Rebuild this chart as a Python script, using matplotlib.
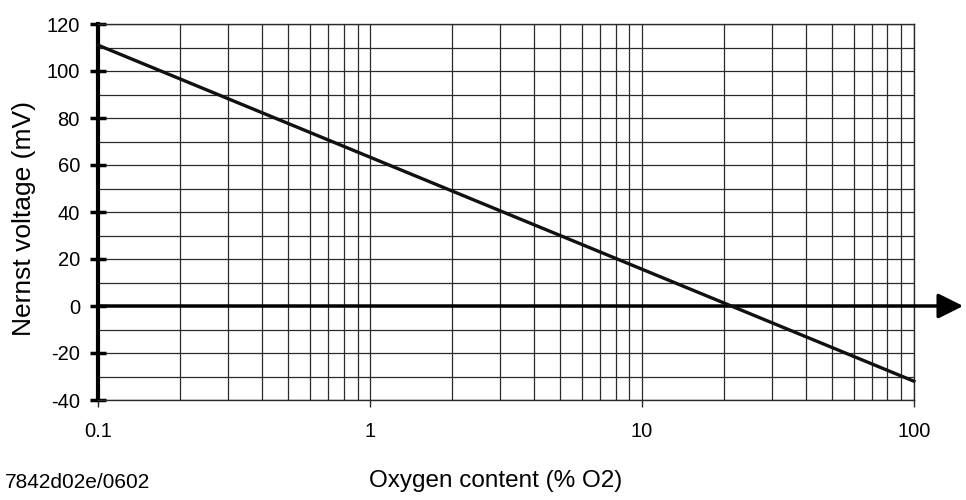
import matplotlib
matplotlib.use('Agg')
import matplotlib.pyplot as plt
from matplotlib.ticker import LogLocator, FixedLocator, MultipleLocator, NullFormatter
from matplotlib import rcParams
rcParams['font.family'] = ['Liberation Sans', 'DejaVu Sans']
rcParams['axes.unicode_minus'] = False

# data
oxygen = [0.1, 100]          # % O2
voltage = [111, -32]         # mV
xticks = [0.1, 1, 10, 100]
xlabels = ['0.1', '1', '10', '100']

fig = plt.figure(figsize=(9.66, 5), dpi=100)
ax = fig.add_axes([0.1015, 0.2, 0.8445, 0.752])

ax.set_xscale('log')
ax.set_xlim(0.1, 100)
ax.set_ylim(-40, 120)

# grid
ax.xaxis.set_major_locator(FixedLocator(xticks))
ax.xaxis.set_minor_locator(LogLocator(base=10, subs=range(2, 10)))
ax.xaxis.set_minor_formatter(NullFormatter())
ax.set_xticklabels(xlabels)
ax.yaxis.set_major_locator(MultipleLocator(20))
ax.yaxis.set_minor_locator(MultipleLocator(10))
ax.grid(which='both', color='#2a2a2a', lw=0.9)
ax.set_axisbelow(True)

ax.tick_params(axis='x', which='major', direction='out', length=5, width=1,
               color='#2a2a2a', pad=11, labelsize=14.5)
ax.tick_params(axis='x', which='minor', length=0)
ax.tick_params(axis='y', which='major', direction='inout', length=12, width=2.5,
               labelsize=14.5, pad=7)
ax.tick_params(axis='y', which='minor', length=0)

for s in ['top', 'right', 'bottom']:
    ax.spines[s].set_linewidth(1.0)
    ax.spines[s].set_color('#2a2a2a')
ax.spines['left'].set_linewidth(3.0)

# zero axis with arrow
ax.annotate('', xy=(1.0605, 0), xycoords=('axes fraction', 'data'),
            xytext=(0, 0), textcoords=('axes fraction', 'data'),
            arrowprops=dict(arrowstyle='-|>', lw=2.5, mutation_scale=38,
                            color='black', shrinkA=0, shrinkB=0),
            annotation_clip=False)

ax.plot(oxygen, voltage, color='#111111', lw=2.4, clip_on=False, zorder=5)

fig.text(24 / 966, 1 - 219 / 500, 'Nernst voltage (mV)', rotation=90,
         ha='center', va='center', fontsize=19)
fig.text(496 / 966, 1 - 481 / 500, 'Oxygen content (% O2)', ha='center',
         va='center', fontsize=17.5)
fig.text(0.005, 1 - 483 / 500, '7842d02e/0602', ha='left', va='center',
         fontsize=15)

fig.savefig('out.png', dpi=100)
